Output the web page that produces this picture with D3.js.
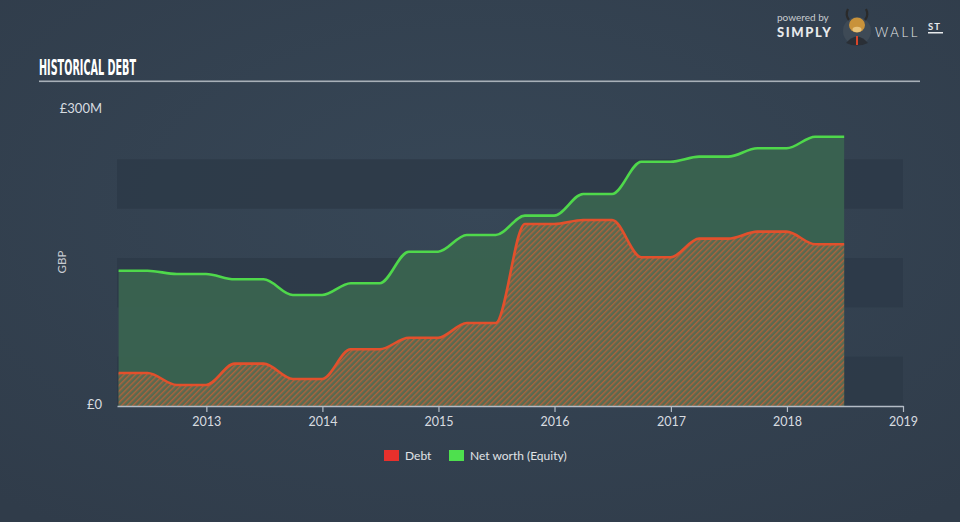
<!DOCTYPE html>
<html><head><meta charset="utf-8">
<script src="https://cdn.jsdelivr.net/npm/d3@7/dist/d3.min.js"></script>
<style>
html,body{margin:0;padding:0;background:#334150;}
svg{display:block;}
</style></head>
<body>
<svg id="chart" width="960" height="522"></svg>
<script>
const dates = ["2012-03-31","2012-06-30","2012-09-30","2012-12-31","2013-03-31","2013-06-30","2013-09-30","2013-12-31",
"2014-03-31","2014-06-30","2014-09-30","2014-12-31","2015-03-31","2015-06-30","2015-09-30","2015-12-31",
"2016-03-31","2016-06-30","2016-09-30","2016-12-31","2017-03-31","2017-06-30","2017-09-30","2017-12-31",
"2018-03-31","2018-06-30"];
const debt = [33.4,33.4,21.3,21.3,42.9,42.9,27.4,27.4,57.5,57.5,69.2,69.2,84.1,84.1,184.5,184.5,188.5,188.5,150.7,150.7,169.6,169.6,176.7,176.7,163.9,163.9];
const netWorth = [137.1,137.1,133.8,133.8,128.4,128.4,112.5,112.5,124.4,124.4,156.4,156.4,173.3,173.3,192.9,192.9,214.9,214.9,247.6,247.6,252.7,252.7,261.2,261.2,272.9,272.9];
const yTicks = [0,300];
const yTickLabels = ["£0","£300M"];
const bandStarts = [0,100,200];
const xTickYears = [2013,2014,2015,2016,2017,2018,2019];
const legendItems = [{name:"Debt",color:"#e8302c"},{name:"Net worth (Equity)",color:"#4ee04e"}];

const svg = d3.select("#chart");
const parse = d3.timeParse("%Y-%m-%d");
const data = dates.map((d,i)=>({date:parse(d),debt:debt[i],nw:netWorth[i]}));

// background
const defs = svg.append("defs");
const bg = defs.append("radialGradient").attr("id","bg").attr("cx","50%").attr("cy","40%").attr("r","75%");
bg.append("stop").attr("offset","0%").attr("stop-color","#374757");
bg.append("stop").attr("offset","100%").attr("stop-color","#303c4a");
svg.append("rect").attr("width",960).attr("height",522).attr("fill","url(#bg)");

const pat = defs.append("pattern").attr("id","hatch").attr("patternUnits","userSpaceOnUse")
  .attr("width",4).attr("height",4).attr("patternTransform","rotate(-45)");
pat.append("rect").attr("width",4).attr("height",4).attr("fill","#586a50");
pat.append("rect").attr("width",4).attr("height",1.4).attr("fill","#b0623c");

const x = d3.scaleTime().domain([new Date(2012,2,26), new Date(2019,0,1)]).range([117,903]);
const y = d3.scaleLinear().domain([0,300]).range([406,110]);

// bands
svg.append("g").selectAll("rect").data(bandStarts).join("rect")
  .attr("x",117).attr("width",903-117)
  .attr("y",d=>y(d+50)).attr("height",d=>y(d)-y(d+50))
  .attr("fill","#2d3a48").attr("opacity",0.85);

const curve = d3.curveMonotoneX;
// net worth area
svg.append("path").datum(data)
  .attr("d",d3.area().curve(curve).x(d=>x(d.date)).y0(y(0)).y1(d=>y(d.nw)))
  .attr("fill","#3a6350").attr("opacity",0.95);
// debt area
svg.append("path").datum(data)
  .attr("d",d3.area().curve(curve).x(d=>x(d.date)).y0(y(0)).y1(d=>y(d.debt)))
  .attr("fill","url(#hatch)");
// lines
svg.append("path").datum(data)
  .attr("d",d3.line().curve(curve).x(d=>x(d.date)).y(d=>y(d.nw)))
  .attr("fill","none").attr("stroke","#4fd84b").attr("stroke-width",2.6);
svg.append("path").datum(data)
  .attr("d",d3.line().curve(curve).x(d=>x(d.date)).y(d=>y(d.debt)))
  .attr("fill","none").attr("stroke","#e2502c").attr("stroke-width",2.6);

// x axis
const xAxis = d3.axisBottom(x).tickValues(xTickYears.map(yr=>new Date(yr,0,1)))
  .tickFormat(d3.timeFormat("%Y")).tickSize(6).tickSizeOuter(0);
const gx = svg.append("g").attr("transform","translate(0,406)").call(xAxis);
gx.select(".domain").attr("stroke","#b4bcc6").attr("stroke-width",1.5);
gx.selectAll(".tick line").attr("stroke","#b4bcc6").attr("stroke-width",1.2);
gx.selectAll(".tick text").attr("fill","#d8dce0").attr("font-family","Lato, 'Open Sans', sans-serif")
  .attr("font-size",12.5).attr("dy","0.85em");

// y axis labels
svg.append("g").selectAll("text").data(yTicks).join("text")
  .attr("x",102).attr("y",d=>y(d)-2).attr("dy","0.35em").attr("text-anchor","end")
  .attr("fill","#d8dce0").attr("font-family","Lato, 'Open Sans', sans-serif").attr("font-size",13)
  .text((d,i)=>yTickLabels[i]);

svg.append("text").attr("transform","translate(66,262) rotate(-90)").attr("text-anchor","middle")
  .attr("fill","#c8ccd2").attr("font-family","Lato, 'Open Sans', sans-serif").attr("font-size",11.5)
  .text("GBP");

// title
svg.append("text").attr("x",39).attr("y",75).attr("fill","#ffffff")
  .attr("font-family","'DejaVu Sans Condensed', 'Liberation Sans Narrow', sans-serif")
  .attr("font-weight","bold").attr("font-size",21)
  .attr("textLength",97).attr("lengthAdjust","spacingAndGlyphs")
  .text("HISTORICAL DEBT");
svg.append("rect").attr("x",39).attr("y",80.5).attr("width",881).attr("height",1.6).attr("fill","#a8b0b8");

// legend
const lg = svg.append("g").attr("transform","translate(384,450)");
legendItems.forEach((it,i)=>{
  const g = lg.append("g").attr("transform",`translate(${i===0?0:65},0)`);
  g.append("rect").attr("width",15).attr("height",11).attr("fill",it.color);
  g.append("text").attr("x",21).attr("y",6).attr("dy","0.35em").attr("fill","#e0e3e6")
    .attr("font-family","Lato, 'Open Sans', sans-serif").attr("font-size",12).text(it.name);
});

// logo
const logo = svg.append("g");
logo.append("text").attr("x",777).attr("y",21).attr("fill","#c8ccd0")
  .attr("font-family","Lato, sans-serif").attr("font-size",10).text("powered by");
logo.append("text").attr("x",777).attr("y",37).attr("fill","#e8eaec")
  .attr("font-family","Lato, sans-serif").attr("font-weight","900").attr("font-size",13).attr("letter-spacing","1.6").text("SIMPLY");
logo.append("circle").attr("cx",857).attr("cy",31).attr("r",14).attr("fill","#3e4a56");
logo.append("path").attr("d","M846,43 Q857,30 868,43 Q857,48 846,43 Z").attr("fill","#2a2f36");
logo.append("ellipse").attr("cx",857).attr("cy",25).attr("rx",8).attr("ry",7.5).attr("fill","#c8923a");
logo.append("ellipse").attr("cx",857).attr("cy",29.5).attr("rx",4.5).attr("ry",2.8).attr("fill","#e7c27a");
logo.append("path").attr("d","M849,20 Q845,15 848,9 M865,20 Q869,15 866,9").attr("stroke","#2a2a2a").attr("stroke-width",2.2).attr("fill","none");
logo.append("path").attr("d","M856,36 L858,36 L858,45 L856,45 Z").attr("fill","#d8452a");
logo.append("text").attr("x",875).attr("y",37).attr("fill","#e8eaec")
  .attr("font-family","Lato, sans-serif").attr("font-weight","300").attr("font-size",13).attr("letter-spacing","2.6").text("WALL");
logo.append("text").attr("x",928).attr("y",30).attr("fill","#e8eaec")
  .attr("font-family","Lato, sans-serif").attr("font-weight","bold").attr("font-size",9.5).attr("letter-spacing","1").text("ST");
logo.append("rect").attr("x",928).attr("y",32).attr("width",15).attr("height",1.5).attr("fill","#e8eaec");
</script>
</body></html>
